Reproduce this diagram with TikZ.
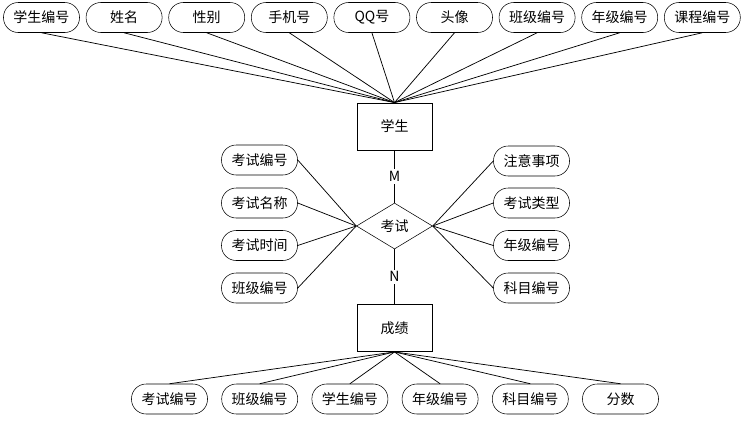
\documentclass[tikz,border=0pt]{standalone}
\usepackage{fontspec}
\setmainfont{Noto Sans CJK SC}
\usetikzlibrary{shapes.geometric}

\begin{document}
\begin{tikzpicture}[x=0.75pt, y=-0.75pt, font=\fontsize{10.5}{12}\selectfont,
  attr/.style={draw, rounded corners=11pt, minimum width=57pt,
    minimum height=22.5pt, inner sep=1pt},
  entity/.style={draw, minimum width=56pt, minimum height=35.5pt},
  rel/.style={draw, diamond, minimum width=57pt, minimum height=34.5pt,
    inner sep=0pt},
  link/.style={line width=0.55pt},
  card/.style={fill=white, inner sep=1.5pt}]
\useasboundingbox (0,0) rectangle (746,422);

% ---- entities and relation ----
\node[entity] (stu) at (394.5,126.5) {学生};
\node[rel] (exam) at (394.5,226) {考试};
\node[entity] (score) at (394.5,328) {成绩};

\draw[link] (stu.south) -- node[card]{M} (exam.north);
\draw[link] (exam.south) -- node[card]{N} (score.north);

% ---- student attributes ----
\foreach \name [count=\i from 0] in
  {学生编号,姓名,性别,手机号,QQ号,头像,班级编号,年级编号,课程编号}{
  \node[attr] (s\i) at ({41.5+82.6*\i},17.5) {\name};
  \draw[link] (s\i.south) -- (stu.north);
}

% ---- exam attributes ----
\foreach \name/\yy [count=\i] in
  {考试编号/160, 考试名称/203, 考试时间/245.5, 班级编号/288}{
  \node[attr] (l\i) at (259.5,\yy) {\name};
  \draw[link] (l\i.east) -- (exam.west);
}
\foreach \name/\yy [count=\i] in
  {注意事项/161, 考试类型/203, 年级编号/245.5, 科目编号/288}{
  \node[attr] (r\i) at (531.5,\yy) {\name};
  \draw[link] (r\i.west) -- (exam.east);
}

% ---- score attributes ----
\foreach \name [count=\i from 0] in
  {考试编号,班级编号,学生编号,年级编号,科目编号,分数}{
  \node[attr] (b\i) at ({169.5+90.2*\i},399) {\name};
  \draw[link] (b\i.north) -- (score.south);
}

\end{tikzpicture}
\end{document}
